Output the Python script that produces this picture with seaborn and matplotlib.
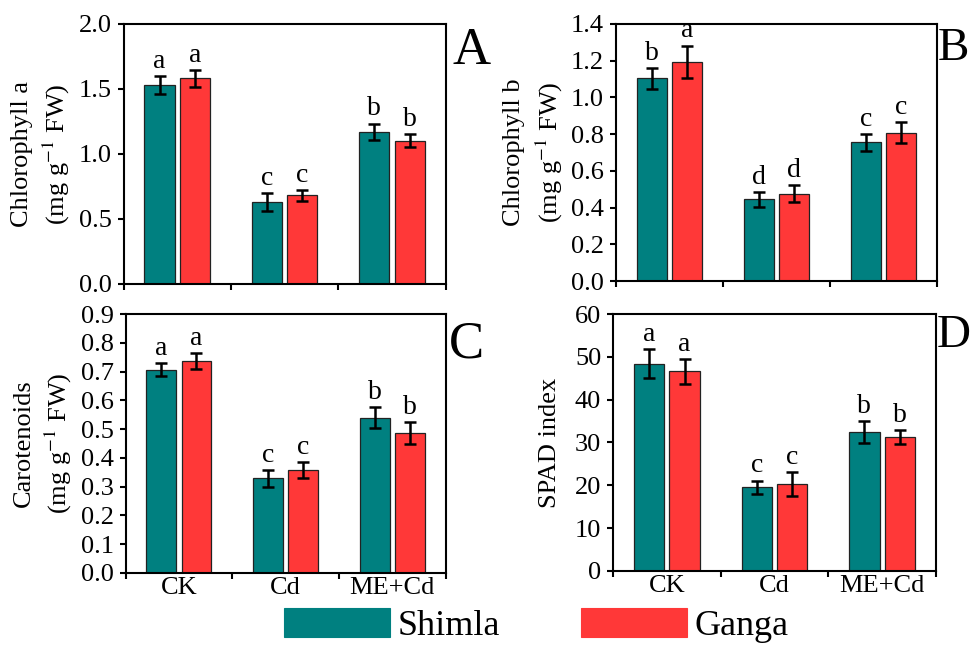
import matplotlib
matplotlib.use("Agg")
import matplotlib.pyplot as plt
import matplotlib.patches as mpatches
import seaborn as sns
import numpy as np
import pandas as pd

# データ
treatments = ["CK", "Cd", "ME+Cd"]
cultivars = ["Shimla", "Ganga"]

chla_shimla = [1.53, 0.63, 1.17]
chla_ganga = [1.58, 0.68, 1.10]
chla_shimla_sd = [0.066, 0.067, 0.063]
chla_ganga_sd = [0.068, 0.044, 0.051]
chla_letters = [["a", "c", "b"], ["a", "c", "b"]]

chlb_shimla = [1.105, 0.445, 0.755]
chlb_ganga = [1.195, 0.477, 0.808]
chlb_shimla_sd = [0.057, 0.042, 0.044]
chlb_ganga_sd = [0.087, 0.047, 0.056]
chlb_letters = [["b", "d", "c"], ["a", "d", "c"]]

car_shimla = [0.707, 0.328, 0.540]
car_ganga = [0.737, 0.358, 0.487]
car_shimla_sd = [0.024, 0.029, 0.037]
car_ganga_sd = [0.028, 0.028, 0.038]
car_letters = [["a", "c", "b"], ["a", "c", "b"]]

spad_shimla = [48.4, 19.5, 32.5]
spad_ganga = [46.6, 20.2, 31.3]
spad_shimla_sd = [3.4, 1.6, 2.6]
spad_ganga_sd = [3.0, 2.8, 1.6]
spad_letters = [["a", "c", "b"], ["a", "c", "b"]]

colors = ["#008080", "#FF3838"]

sns.set_style("ticks")
plt.rcParams['font.family'] = ['Liberation Serif', 'DejaVu Serif']
plt.rcParams['mathtext.fontset'] = 'stix'
plt.rcParams['axes.linewidth'] = 1.5
plt.rcParams['text.color'] = 'black'
plt.rcParams['axes.labelcolor'] = 'black'
plt.rcParams['xtick.color'] = 'black'
plt.rcParams['ytick.color'] = 'black'
plt.rcParams['axes.edgecolor'] = 'black'


def make_df(shimla, ganga):
    return pd.DataFrame({
        "treatment": treatments * 2,
        "cultivar": ["Shimla"] * 3 + ["Ganga"] * 3,
        "value": list(shimla) + list(ganga),
    })


def draw_panel(ax, shimla, ganga, sd_s, sd_g, letters, ymax, ystep, fmt,
               ylabel, show_x):
    df = make_df(shimla, ganga)
    sns.barplot(data=df, x="treatment", y="value", hue="cultivar",
                order=treatments, hue_order=cultivars, palette=colors,
                width=0.66, gap=0.15, errorbar=None, legend=False,
                edgecolor="#222222", linewidth=0.9, saturation=1, ax=ax)

    # エラーバーと有意差の文字
    for cont, sds, lets in zip(ax.containers, [sd_s, sd_g], letters):
        for bar, sd, let in zip(cont, sds, lets):
            xc = bar.get_x() + bar.get_width() / 2
            h = bar.get_height()
            ax.errorbar(xc, h, yerr=sd, fmt="none", ecolor="black",
                        elinewidth=1.8, capsize=4.5, capthick=1.8)
            ax.annotate(let, (xc, h + sd), textcoords="offset points",
                        xytext=(0, 1.5), ha="center", va="bottom", fontsize=20)

    ax.set_xlim(-0.5, 2.5)
    ax.set_ylim(0, ymax)
    ax.set_yticks(np.arange(0, ymax + ystep / 2, ystep))
    ax.yaxis.set_major_formatter(plt.FormatStrFormatter(fmt))
    ax.set_xticks([-0.5, 0.5, 1.5, 2.5])
    ax.set_xticklabels([])
    ax.set_xticks([0, 1, 2], minor=True)
    if show_x:
        ax.set_xticklabels(treatments, minor=True)
    else:
        ax.set_xticklabels([], minor=True)
    ax.tick_params(axis="both", which="major", direction="out", length=4.5,
                   width=1.5, labelsize=19, pad=4)
    ax.tick_params(axis="x", which="minor", length=0, labelsize=19, pad=3)
    ax.set_xlabel("")
    ax.set_ylabel(ylabel, fontsize=19, linespacing=1.35)
    ax.yaxis.set_label_coords(-0.16, 0.5)
    for s in ax.spines.values():
        s.set_visible(True)
        s.set_linewidth(1.5)
        s.set_color("black")
    return ax


fig = plt.figure(figsize=(9.73, 6.45), dpi=100)
axA = fig.add_axes([0.127, 0.560, 0.331, 0.403])
axB = fig.add_axes([0.633, 0.564, 0.330, 0.399])
axC = fig.add_axes([0.129, 0.112, 0.329, 0.401])
axD = fig.add_axes([0.630, 0.115, 0.332, 0.398])

draw_panel(axA, chla_shimla, chla_ganga, chla_shimla_sd, chla_ganga_sd,
           chla_letters, 2.0, 0.5, "%.1f",
           "Chlorophyll a\n(mg g$^{-1}$ FW)", False)
draw_panel(axB, chlb_shimla, chlb_ganga, chlb_shimla_sd, chlb_ganga_sd,
           chlb_letters, 1.4, 0.2, "%.1f",
           "Chlorophyll b\n(mg g$^{-1}$ FW)", False)
draw_panel(axC, car_shimla, car_ganga, car_shimla_sd, car_ganga_sd,
           car_letters, 0.9, 0.1, "%.1f",
           "Carotenoids\n(mg g$^{-1}$ FW)", True)
draw_panel(axD, spad_shimla, spad_ganga, spad_shimla_sd, spad_ganga_sd,
           spad_letters, 60, 10, "%d",
           "SPAD index", True)

# パネル記号
fig.text(0.465, 0.901, "A", fontsize=38, ha="left", va="baseline")
fig.text(0.964, 0.907, "B", fontsize=34, ha="left", va="baseline")
fig.text(0.461, 0.4465, "C", fontsize=38, ha="left", va="baseline")
fig.text(0.963, 0.462, "D", fontsize=34, ha="left", va="baseline")

# 凡例
handles = [mpatches.Patch(facecolor=c, edgecolor=c, linewidth=0.8, label=l)
           for c, l in zip(colors, cultivars)]
fig.legend(handles=handles, loc="center", bbox_to_anchor=(0.551, 0.03),
           ncol=2, frameon=False, fontsize=26, handlelength=2.95,
           handleheight=0.87, handletextpad=0.2, columnspacing=2.25)

fig.savefig("out.png", dpi=100)
